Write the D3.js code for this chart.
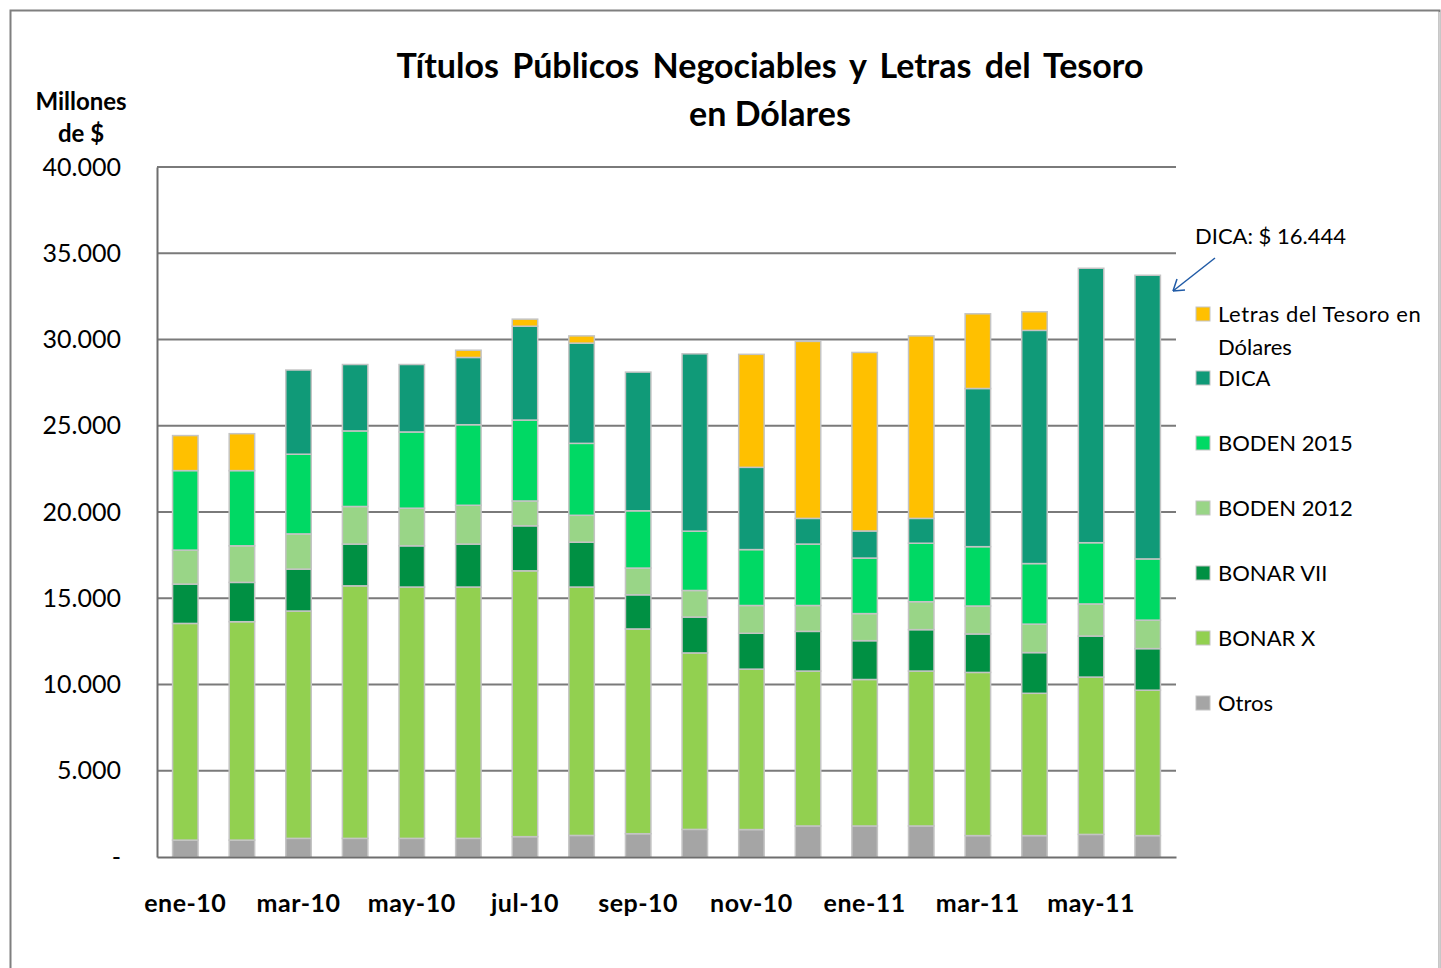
<!DOCTYPE html>
<html>
<head>
<meta charset="utf-8">
<script src="https://cdn.jsdelivr.net/npm/d3@7"></script>
<style>
  body { margin: 0; background: #fff; }
  text { font-family: Lato, "Open Sans", sans-serif; fill: #000; }
</style>
</head>
<body>
<div id="chart"></div>
<script>
// Data (millones de $)
var months = ["ene-10","feb-10","mar-10","abr-10","may-10","jun-10","jul-10","ago-10","sep-10",
              "oct-10","nov-10","dic-10","ene-11","feb-11","mar-11","abr-11","may-11","jun-11"];
var tickMonths = ["ene-10","mar-10","may-10","jul-10","sep-10","nov-10","ene-11","mar-11","may-11"];

var otros    = [0.98,0.98,1.08,1.08,1.08,1.08,1.18,1.25,1.35,1.60,1.59,1.80,1.80,1.80,1.24,1.24,1.31,1.24];
var bonarX   = [12.56,12.66,13.18,14.64,14.57,14.57,15.41,14.40,11.87,10.23,9.30,8.98,8.49,8.98,9.46,8.25,9.12,8.43];
var bonarVII = [2.28,2.28,2.43,2.42,2.39,2.49,2.61,2.60,1.98,2.08,2.08,2.30,2.25,2.40,2.23,2.36,2.38,2.41];
var boden12  = [1.97,2.12,2.04,2.18,2.18,2.25,1.44,1.56,1.55,1.54,1.61,1.50,1.57,1.62,1.62,1.65,1.86,1.65];
var boden15  = [4.61,4.36,4.62,4.38,4.42,4.67,4.69,4.17,3.32,3.44,3.24,3.56,3.22,3.39,3.44,3.51,3.55,3.55];
var dica     = [0,0,4.88,3.85,3.91,3.90,5.44,5.81,8.04,10.28,4.77,1.49,1.57,1.44,9.17,13.52,15.91,16.444];
var letras   = [2.03,2.14,0,0,0,0.42,0.41,0.42,0,0,6.55,10.26,10.35,10.58,4.33,1.08,0,0];

var seriesNames = ["Otros","BONAR X","BONAR VII","BODEN 2012","BODEN 2015","DICA","Letras del Tesoro en Dólares"];
var seriesColors = ["#a5a5a5","#92d050","#009043","#99d587","#00d964","#109a78","#ffc000"];
var yTicks = [0,5000,10000,15000,20000,25000,30000,35000,40000];

var svgWidth = 1441, svgHeight = 968;
var margin = {top: 167, left: 157, right: 265, bottom: 111};
var width = svgWidth - margin.left - margin.right;
var height = svgHeight - margin.top - margin.bottom;

var svg = d3.select("#chart").append("svg")
  .attr("width", svgWidth)
  .attr("height", svgHeight);

// outer frame
svg.append("path")
  .attr("d", "M10.5,975 V10.5 H1439.5 V975")
  .attr("fill", "none")
  .attr("stroke", "#7f7f7f")
  .attr("stroke-width", 2);
svg.append("line")
  .attr("x1", 1439.5).attr("x2", 1439.5).attr("y1", 12).attr("y2", 968)
  .attr("stroke", "#d0d0d0").attr("stroke-width", 2);

var chartGroup = svg.append("g")
  .attr("transform", `translate(${margin.left}, ${margin.top})`);

var rows = months.map(function(m, i) {
  return {
    month: m,
    "Otros": otros[i] * 1000,
    "BONAR X": bonarX[i] * 1000,
    "BONAR VII": bonarVII[i] * 1000,
    "BODEN 2012": boden12[i] * 1000,
    "BODEN 2015": boden15[i] * 1000,
    "DICA": dica[i] * 1000,
    "Letras del Tesoro en Dólares": letras[i] * 1000
  };
});

var xScale = d3.scaleBand()
  .domain(months)
  .range([0, width])
  .paddingInner(0.55)
  .paddingOuter(0.275);

var yScale = d3.scaleLinear()
  .domain([0, 40000])
  .range([height, 0]);

// gridlines
chartGroup.append("g")
  .selectAll("line")
  .data(yTicks.slice(1))
  .enter()
  .append("line")
  .attr("x1", 0).attr("x2", width)
  .attr("y1", d => yScale(d)).attr("y2", d => yScale(d))
  .attr("stroke", "#7a7a7a")
  .attr("stroke-width", 2);

// stacked bars
var stack = d3.stack().keys(seriesNames);
var layers = stack(rows);

chartGroup.selectAll("g.layer")
  .data(layers)
  .enter()
  .append("g")
  .attr("class", "layer")
  .attr("fill", (d, i) => seriesColors[i])
  .selectAll("rect")
  .data(d => d.filter(p => p[1] - p[0] > 0))
  .enter()
  .append("rect")
  .attr("x", d => xScale(d.data.month))
  .attr("y", d => yScale(d[1]))
  .attr("width", xScale.bandwidth())
  .attr("height", d => yScale(d[0]) - yScale(d[1]))
  .attr("stroke", "#c4c4c4")
  .attr("stroke-width", 1.5);

// axes
var leftAxis = d3.axisLeft(yScale)
  .tickValues(yTicks)
  .tickSize(0)
  .tickPadding(36)
  .tickFormat(d => d === 0 ? "-" : d3.format(",")(d).replace(/,/g, "."));

var yAxisG = chartGroup.append("g").call(leftAxis);
yAxisG.select(".domain").attr("stroke", "#6e6e6e").attr("stroke-width", 2);
yAxisG.selectAll("text")
  .style("font-size", "25px")
  .style("font-family", "Lato, sans-serif");

var bottomAxis = d3.axisBottom(xScale)
  .tickValues(tickMonths)
  .tickSize(0)
  .tickPadding(37);

var xAxisG = chartGroup.append("g")
  .attr("transform", `translate(0, ${height})`)
  .call(bottomAxis);
xAxisG.select(".domain").attr("stroke", "#6e6e6e").attr("stroke-width", 2);
xAxisG.selectAll("text")
  .style("font-size", "25px")
  .style("font-weight", "bold")
  .style("letter-spacing", "0.5px")
  .style("font-family", "Lato, sans-serif");

// title
svg.append("text")
  .attr("x", 770).attr("y", 78)
  .attr("text-anchor", "middle")
  .style("font-size", "34px").style("font-weight", "bold")
  .style("word-spacing", "5px")
  .text("Títulos Públicos Negociables y Letras del Tesoro");
svg.append("text")
  .attr("x", 770).attr("y", 126)
  .attr("text-anchor", "middle")
  .style("font-size", "34px").style("font-weight", "bold")
  .text("en Dólares");

// y axis title
svg.append("text")
  .attr("x", 81).attr("y", 110)
  .attr("text-anchor", "middle")
  .style("font-size", "24px").style("font-weight", "bold")
  .text("Millones");
svg.append("text")
  .attr("x", 81).attr("y", 142)
  .attr("text-anchor", "middle")
  .style("font-size", "24px").style("font-weight", "bold")
  .text("de $");

// legend (top to bottom: reverse of stack)
var legendItems = seriesNames.slice().reverse();
var legendColors = seriesColors.slice().reverse();
var legend = svg.append("g").attr("transform", "translate(1196, 314)");

legendItems.forEach(function(name, i) {
  var yPos = i === 0 ? 0 : 64 + 65 * (i - 1);
  var g = legend.append("g").attr("transform", `translate(0, ${yPos})`);
  g.append("rect")
    .attr("x", 0).attr("y", -7)
    .attr("width", 14).attr("height", 14)
    .attr("fill", legendColors[i])
    .attr("stroke", "#c4c4c4").attr("stroke-width", 1);
  if (i === 0) {
    g.append("text").attr("x", 22).attr("y", 8)
      .style("font-size", "22px").style("letter-spacing", "0.6px")
      .text("Letras del Tesoro en");
    g.append("text").attr("x", 22).attr("y", 41)
      .style("font-size", "22px").text("Dólares");
  } else {
    g.append("text").attr("x", 22).attr("y", 8)
      .style("font-size", "22px").text(name);
  }
});

// DICA annotation
svg.append("text")
  .attr("x", 1195).attr("y", 244)
  .style("font-size", "22px")
  .text("DICA: $ 16.444");

svg.append("line")
  .attr("x1", 1215).attr("y1", 258)
  .attr("x2", 1173).attr("y2", 291)
  .attr("stroke", "#1f5aa6").attr("stroke-width", 1.5);
svg.append("path")
  .attr("d", "M1173,291 L1177,279 M1173,291 L1185,290")
  .attr("fill", "none")
  .attr("stroke", "#1f5aa6").attr("stroke-width", 1.5);
</script>
</body>
</html>
